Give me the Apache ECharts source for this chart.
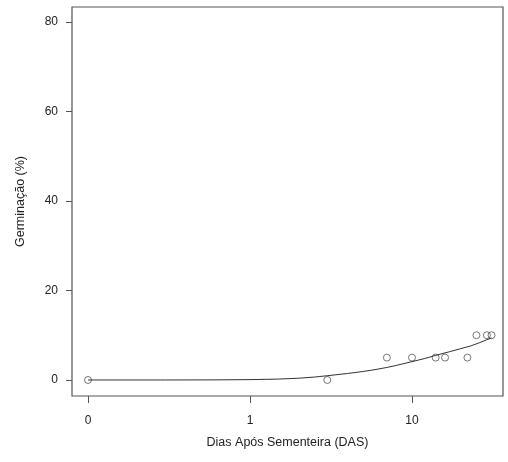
<!DOCTYPE html>
<html>
<head>
<meta charset="utf-8">
<script src="https://cdn.jsdelivr.net/npm/echarts@6/dist/echarts.min.js"></script>
<style>
  html, body { margin: 0; padding: 0; background: #fff; }
  #chart { width: 508px; height: 462px; }
</style>
</head>
<body>
<div id="chart"></div>
<script>
// Observed germination by day after sowing
const obsDays = [0, 3, 7, 10, 14, 16, 22, 25, 29, 31];
const obsGerm = [0, 0, 5, 5, 5, 5, 5, 10, 10, 10];

// Fitted dose-response curve, sampled along the day axis
const fitDays = [0, 0.3, 0.6, 1, 1.5, 2, 2.5, 3, 4, 5, 6, 7, 8, 10, 12, 14, 17, 20, 23, 26, 29, 31];
const fitGerm = [0, 0, 0.02, 0.08, 0.2, 0.4, 0.65, 0.95, 1.45, 1.9, 2.35, 2.8, 3.25, 4.1, 4.8, 5.5, 6.3, 7.0, 7.6, 8.3, 9.0, 9.4];

// Axis ticks
const xTicks = [0, 1, 10];
const yTicks = [0, 20, 40, 60, 80];

// Log10 day position; day 0 is drawn one decade below 1
const pos = d => (d === 0 ? -1 : Math.log10(d));
const xTickPos = xTicks.map(pos);

const textColor = '#222';
const frameColor = '#555';
const font = 'Liberation Sans, Arial, Helvetica, sans-serif';

const chart = echarts.init(document.getElementById('chart'), null, { renderer: 'canvas' });
chart.setOption({
  animation: false,
  backgroundColor: '#fff',
  grid: {
    left: 72, top: 7, right: 5, bottom: 66,
    show: true, borderColor: frameColor, borderWidth: 1.2, backgroundColor: 'transparent'
  },
  xAxis: {
    type: 'value',
    min: -1.099, max: 1.562,
    name: 'Dias Após Sementeira (DAS)',
    nameLocation: 'middle',
    nameGap: 40,
    nameTextStyle: { color: textColor, fontSize: 12.5, fontFamily: font },
    axisLine: { show: false, onZero: false },
    splitLine: { show: false },
    axisTick: { show: true, length: 7, customValues: xTickPos, lineStyle: { color: frameColor } },
    axisLabel: {
      customValues: xTickPos,
      margin: 19,
      color: textColor, fontSize: 12, fontFamily: font,
      formatter: v => {
        const i = xTickPos.findIndex(p => Math.abs(p - v) < 1e-6);
        return i >= 0 ? String(xTicks[i]) : '';
      }
    }
  },
  yAxis: {
    type: 'value',
    min: -3.58, max: 83.35,
    name: 'Germinação (%)',
    nameLocation: 'middle',
    nameGap: 45,
    nameTextStyle: { color: textColor, fontSize: 12.5, fontFamily: font },
    axisLine: { show: false, onZero: false },
    splitLine: { show: false },
    axisTick: { show: true, length: 6, customValues: yTicks, lineStyle: { color: frameColor } },
    axisLabel: {
      customValues: yTicks,
      margin: 14,
      color: textColor, fontSize: 12, fontFamily: font
    }
  },
  series: [
    {
      type: 'line',
      data: fitDays.map((d, i) => [pos(d), fitGerm[i]]),
      showSymbol: false,
      smooth: false,
      lineStyle: { color: '#333', width: 1 },
      silent: true
    },
    {
      type: 'scatter',
      data: obsDays.map((d, i) => [pos(d), obsGerm[i]]),
      symbol: 'circle',
      symbolSize: 7,
      itemStyle: { color: 'rgba(255,255,255,0)', borderColor: '#555', borderWidth: 1 }
    }
  ]
});
</script>
</body>
</html>
